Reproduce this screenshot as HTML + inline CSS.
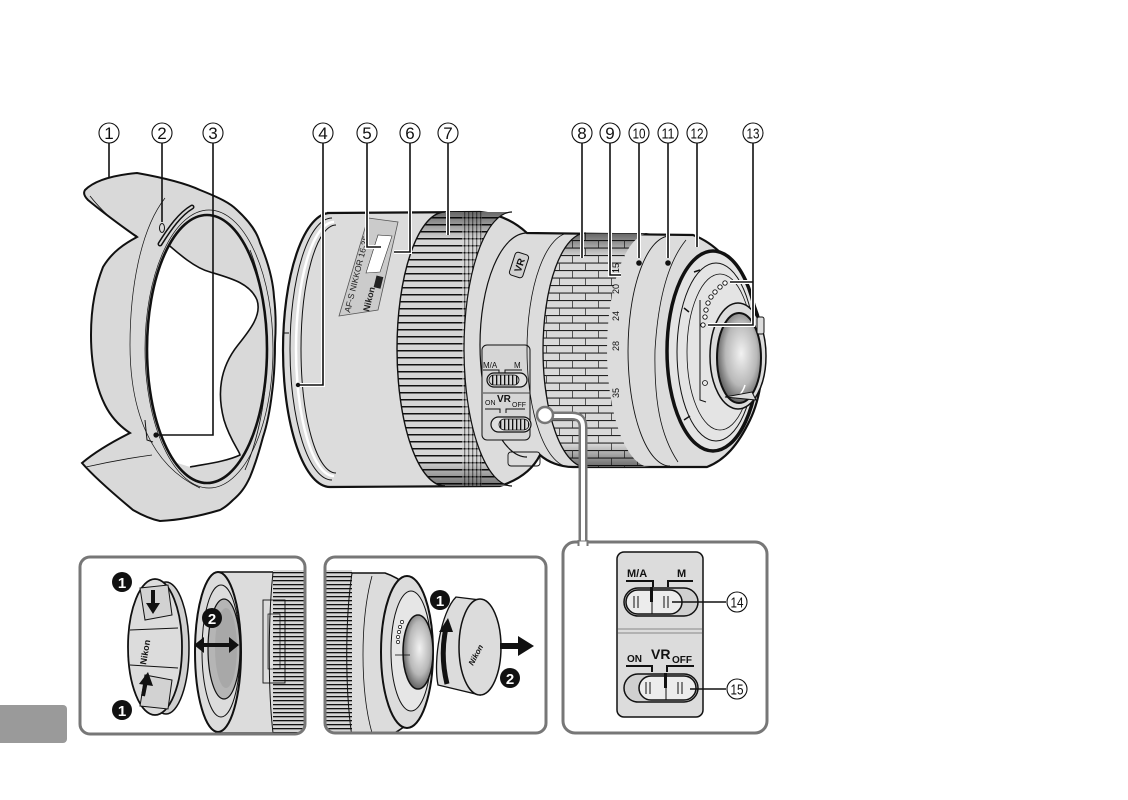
<!DOCTYPE html>
<html><head><meta charset="utf-8"><style>
html,body{margin:0;padding:0;background:#fff;}
svg{display:block;font-family:"Liberation Sans",sans-serif;}
</style></head><body>
<svg width="1128" height="800" viewBox="0 0 1128 800" xmlns="http://www.w3.org/2000/svg">
<defs>
  <radialGradient id="glass" cx="0.55" cy="0.45" r="0.65">
    <stop offset="0" stop-color="#f2f2f2"/>
    <stop offset="0.55" stop-color="#b8b8b8"/>
    <stop offset="1" stop-color="#3a3a3a"/>
  </radialGradient>
  <linearGradient id="edgeDark" x1="0" y1="0" x2="0" y2="1">
    <stop offset="0" stop-color="#000" stop-opacity="0.65"/>
    <stop offset="0.12" stop-color="#000" stop-opacity="0"/>
    <stop offset="0.88" stop-color="#000" stop-opacity="0"/>
    <stop offset="1" stop-color="#000" stop-opacity="0.65"/>
  </linearGradient>
  <pattern id="ribs" width="20" height="7" patternUnits="userSpaceOnUse">
    <rect width="20" height="7" fill="#d6d6d6"/>
    <rect y="0" width="20" height="1.5" fill="#111"/>
  </pattern>
  <pattern id="brick" width="26" height="15" patternUnits="userSpaceOnUse">
    <rect width="26" height="15" fill="#d9d9d9"/>
    <rect y="0" width="26" height="1.1" fill="#222"/>
    <rect y="7.5" width="26" height="1.1" fill="#222"/>
    <rect x="0" y="0" width="0.8" height="7.5" fill="#333"/>
    <rect x="13" y="7.5" width="0.8" height="7.5" fill="#333"/>
  </pattern>
  <pattern id="ribsV" width="4" height="20" patternUnits="userSpaceOnUse">
    <rect width="4" height="20" fill="#d6d6d6"/>
    <rect x="0" width="1.3" height="20" fill="#111"/>
  </pattern>
  <pattern id="ribsH" width="20" height="4" patternUnits="userSpaceOnUse">
    <rect width="20" height="4" fill="#d6d6d6"/>
    <rect y="0" width="20" height="1.3" fill="#111"/>
  </pattern>
  <clipPath id="hoodInner"><ellipse cx="207" cy="349" rx="60" ry="134"/></clipPath>
  <clipPath id="focusClip"><path d="M445,212 A48,137 0 0 0 445,486 L512,486 A48,137 0 0 1 512,212 Z"/></clipPath>
  <clipPath id="zoomClip"><path d="M586,233 A43,117 0 0 0 586,467 L650,467 A43,117 0 0 1 650,233 Z"/></clipPath>
  <clipPath id="p1"><rect x="80" y="557" width="225" height="177" rx="10"/></clipPath>
  <clipPath id="p2"><rect x="325" y="557" width="221" height="176" rx="10"/></clipPath>
</defs>

<rect width="1128" height="800" fill="#fff"/>

<!-- ================= HOOD ================= -->
<path d="M85,190 C95,180 115,175 137,173 C165,178 185,183 200,190 C220,198 230,203 237,210 C250,222 257,232 260,243 C268,262 273,280 274,297 C276,313 276,328 275,343 C275,360 274,378 272,393 C270,410 267,425 263,437 C259,452 255,465 250,477 C245,488 240,494 233,500 C228,505 224,508 220,510 C200,516 180,520 160,521 C150,519 140,514 133,510 C115,495 95,478 82,463 C95,452 112,442 130,433 C118,425 110,415 105,405 C95,385 91,360 91,335 C91,305 96,285 103,267 C112,252 124,244 137,237 C120,225 100,210 88,200 C84,196 83,193 85,190 Z" fill="#d9d9d9" stroke="#111" stroke-width="2"/>
<path d="M90,196 C105,215 122,228 137,236" fill="none" stroke="#111" stroke-width="0.8"/>
<path d="M86,467 C108,462 130,458 152,455" fill="none" stroke="#111" stroke-width="0.8"/>
<path d="M165,198 C140,230 130,290 130,345 C130,410 150,465 200,488" fill="none" stroke="#111" stroke-width="0.7"/>
<ellipse cx="207" cy="349" rx="60" ry="134" fill="#d9d9d9"/>
<g clip-path="url(#hoodInner)">
  <path d="M163,240 C180,255 195,268 210,272 C230,278 250,283 257,300 C262,315 250,330 238,345 C222,365 216,390 224,420 C230,440 240,452 240,455 C225,462 205,464 190,467 L168,460 L130,470 L130,225 Z" fill="#fff"/>
  <path d="M163,240 C180,255 195,268 210,272 C230,278 250,283 257,300 C262,315 250,330 238,345 C222,365 216,390 224,420 C230,440 240,452 240,455 C225,462 205,464 190,467" fill="none" stroke="#111" stroke-width="1.6"/>
</g>
<ellipse cx="207" cy="349" rx="60" ry="134" fill="none" stroke="#111" stroke-width="2.6"/>
<ellipse cx="209" cy="349" rx="64" ry="139" fill="none" stroke="#111" stroke-width="0.7"/>
<path d="M250,250 C262,280 268,320 267,360 C266,400 258,440 245,470" fill="none" stroke="#111" stroke-width="0.8"/>
<path d="M160,244 C170,228 180,214 192,207" fill="none" stroke="#111" stroke-width="5" stroke-linecap="round"/>
<path d="M160,244 C170,228 180,214 192,207" fill="none" stroke="#d9d9d9" stroke-width="2" stroke-linecap="round"/>
<ellipse cx="162" cy="228" rx="2.5" ry="4.5" fill="#d9d9d9" stroke="#111" stroke-width="1"/>
<path d="M145,420 L147,440 L153,442" fill="none" stroke="#111" stroke-width="1"/>

<!-- ================= LENS BODY ================= -->
<path d="M327,213 L480,212 C500,214 515,222 527,233 L693,235 C720,245 745,275 758,315 C768,350 762,395 750,420 C738,445 725,460 707,467 L573,467 C560,467 548,462 540,455 C535,465 525,478 500,486 L330,487 A47,137 0 0 1 330,213 Z" fill="#dcdcdc" stroke="#111" stroke-width="2.2"/>
<path d="M332,218 A42,131 0 0 0 332,480" fill="none" stroke="#111" stroke-width="1"/>
<path d="M334,222 A38,127 0 0 0 334,476" fill="none" stroke="#fff" stroke-width="2.5"/>
<path d="M336,225 A35,124 0 0 0 336,473" fill="none" stroke="#111" stroke-width="1"/>
<path d="M283,333 L289,333" stroke="#111" stroke-width="1"/>
<polygon points="339,316 378,310 398,222 368,218" fill="#cbcbcb" stroke="#555" stroke-width="0.8"/>
<polygon points="366,273 380,272 392,236 378,235" fill="#fff" stroke="#333" stroke-width="0.6"/>
<rect x="372" y="279" width="12" height="7" fill="#222" transform="rotate(-76 378 282)"/>
<text transform="translate(350,313) rotate(-76)" font-size="8.5" fill="#222">AF-S NIKKOR 16-35</text>
<text transform="translate(369,312) rotate(-76)" font-size="9" font-weight="bold" fill="#222">Nikon</text>
<g clip-path="url(#focusClip)">
  <rect x="390" y="205" width="130" height="290" fill="url(#ribs)"/>
  <rect x="462" y="205" width="20" height="290" fill="url(#ribsV)" opacity="0.5"/>
  <rect x="390" y="205" width="130" height="290" fill="url(#edgeDark)"/>
</g>
<path d="M445,212 A48,137 0 0 0 445,486" fill="none" stroke="#111" stroke-width="1.4"/>
<path d="M512,212 A48,137 0 0 0 512,486" fill="none" stroke="#111" stroke-width="1.2"/>
<path d="M527,233 A47,112 0 0 0 527,457" fill="none" stroke="#111" stroke-width="1.2"/>
<rect x="508" y="452" width="32" height="14" rx="3" fill="none" stroke="#111" stroke-width="0.9"/>
<g transform="translate(519,265) rotate(-72)">
  <rect x="-12" y="-7" width="24" height="14" rx="3" fill="#d0d0d0" stroke="#111" stroke-width="1"/>
  <text x="0" y="4" font-size="10" font-weight="bold" text-anchor="middle" fill="#111">VR</text>
</g>
<rect x="482" y="345" width="48" height="95" rx="5" fill="#d6d6d6" stroke="#111" stroke-width="1"/>
<text x="483" y="368" font-size="8" fill="#111">M/A</text>
<text x="514" y="368" font-size="8" fill="#111">M</text>
<path d="M483,370 H499 V374 M505,374 V370 H522" fill="none" stroke="#111" stroke-width="1"/>
<rect x="487" y="373" width="40" height="14" rx="7" fill="#e0e0e0" stroke="#111" stroke-width="1.2"/>
<rect x="489" y="375" width="30" height="10" rx="5" fill="url(#ribsV)" stroke="#111" stroke-width="0.8"/>
<line x1="483" y1="393" x2="530" y2="393" stroke="#111" stroke-width="0.8"/>
<text x="485" y="405" font-size="7" fill="#111">ON</text>
<text x="497" y="402" font-size="10" font-weight="bold" fill="#111">VR</text>
<text x="512" y="407" font-size="7" fill="#111">OFF</text>
<path d="M485,409 H500 V413 M506,413 V409 H525" fill="none" stroke="#111" stroke-width="1"/>
<rect x="491" y="417" width="40" height="15" rx="7.5" fill="#e0e0e0" stroke="#111" stroke-width="1.2"/>
<rect x="499" y="419" width="30" height="11" rx="5.5" fill="url(#ribsV)" stroke="#111" stroke-width="0.8"/>
<g clip-path="url(#zoomClip)">
  <rect x="540" y="228" width="120" height="245" fill="url(#brick)"/>
  <rect x="540" y="228" width="120" height="245" fill="url(#edgeDark)"/>
</g>
<path d="M586,233 A43,117 0 0 0 586,467" fill="none" stroke="#111" stroke-width="1.3"/>
<path d="M570,233 A43,117 0 0 0 570,467" fill="none" stroke="#111" stroke-width="0.8"/>
<g font-size="9" fill="#111" text-anchor="middle">
  <text transform="translate(619,268) rotate(-90)">15</text>
  <text transform="translate(619,289) rotate(-90)">20</text>
  <text transform="translate(619,316) rotate(-90)">24</text>
  <text transform="translate(619,346) rotate(-90)">28</text>
  <text transform="translate(619,393) rotate(-90)">35</text>
</g>
<path d="M670,236 A42,115 0 0 0 670,466" fill="none" stroke="#111" stroke-width="0.9"/>
<path d="M686,240 C668,262 658,300 655,350 C654,400 660,435 678,462" fill="none" stroke="#111" stroke-width="0.8"/>
<ellipse cx="713" cy="351" rx="46" ry="100" fill="#e4e4e4" stroke="#111" stroke-width="3.5"/>
<ellipse cx="716" cy="352" rx="39" ry="89" fill="none" stroke="#111" stroke-width="1"/>
<ellipse cx="720" cy="352" rx="33" ry="78" fill="none" stroke="#111" stroke-width="0.8"/>
<path d="M700,300 L700,400 L706,402" fill="none" stroke="#111" stroke-width="1"/>
<circle cx="705" cy="383" r="2.5" fill="none" stroke="#111" stroke-width="0.8"/>
<path d="M684,308 L689,312 M684,420 L690,416 M694,272 L700,270" stroke="#111" stroke-width="1.5"/>
<g fill="#fff" stroke="#111" stroke-width="0.9">
  <circle cx="725" cy="283" r="2.2"/><circle cx="720" cy="287" r="2.2"/><circle cx="715" cy="292" r="2.2"/>
  <circle cx="711" cy="297" r="2.2"/><circle cx="708" cy="303" r="2.2"/><circle cx="706" cy="310" r="2.2"/>
  <circle cx="705" cy="317" r="2.2"/><circle cx="703" cy="325" r="2.2"/>
</g>
<ellipse cx="738" cy="356" rx="28" ry="53" fill="#dcdcdc" stroke="#111" stroke-width="1.5"/>
<ellipse cx="739" cy="358" rx="22" ry="45" fill="url(#glass)" stroke="#111" stroke-width="2"/>
<path d="M745,385 Q742,395 735,398" fill="none" stroke="#fff" stroke-width="1.5"/>
<path d="M725,397 L752,392 L756,400 Z" fill="#dcdcdc" stroke="#111" stroke-width="1"/>
<rect x="757" y="317" width="7" height="17" rx="2" fill="#dcdcdc" stroke="#111" stroke-width="1"/>

<!-- ================= CALLOUT NUMBERS ================= -->
<g fill="none" stroke="#111" stroke-width="1.1">
  <circle cx="109" cy="133" r="10"/><circle cx="162" cy="133" r="10"/><circle cx="213" cy="133" r="10"/>
  <circle cx="323" cy="133" r="10"/><circle cx="367" cy="133" r="10"/><circle cx="410" cy="133" r="10"/>
  <circle cx="448" cy="133" r="10"/><circle cx="582" cy="133" r="10"/><circle cx="610" cy="133" r="10"/>
  <circle cx="639" cy="133" r="10"/><circle cx="668" cy="133" r="10"/><circle cx="697" cy="133" r="10"/>
  <circle cx="753" cy="133" r="10"/>
</g>
<g font-size="17" fill="#111" text-anchor="middle">
  <text x="109" y="139">1</text><text x="162" y="139">2</text><text x="213" y="139">3</text>
  <text x="323" y="139">4</text><text x="367" y="139">5</text><text x="410" y="139">6</text>
  <text x="448" y="139">7</text><text x="582" y="139">8</text><text x="610" y="139">9</text>
</g>
<g font-size="15" fill="#111">
  <text x="632.5" y="138.5" textLength="13" lengthAdjust="spacingAndGlyphs">10</text>
  <text x="661.5" y="138.5" textLength="13" lengthAdjust="spacingAndGlyphs">11</text>
  <text x="690.5" y="138.5" textLength="13" lengthAdjust="spacingAndGlyphs">12</text>
  <text x="746.5" y="138.5" textLength="13" lengthAdjust="spacingAndGlyphs">13</text>
</g>
<g fill="none" stroke="#fff" stroke-width="4">
  <path d="M323,190 V385 H300"/><path d="M367,210 V247 H381"/><path d="M410,210 V252 H394"/>
  <path d="M448,210 V235"/><path d="M582,232 V258"/><path d="M610,232 V275 H621"/>
  <path d="M639,232 V258"/><path d="M668,232 V258"/><path d="M697,232 V247"/>
  <path d="M753,260 V325 H708 M753,282 H730"/>
</g>
<g fill="none" stroke="#111" stroke-width="1.6">
  <path d="M109,143 V178"/>
  <path d="M162,143 V222"/>
  <path d="M213,143 V435 H158"/>
  <path d="M323,143 V385 H300"/>
  <path d="M367,143 V247 H381"/>
  <path d="M410,143 V252 H394"/>
  <path d="M448,143 V235"/>
  <path d="M582,143 V258"/>
  <path d="M610,143 V275 H621"/>
  <path d="M639,143 V258"/>
  <path d="M668,143 V258"/>
  <path d="M697,143 V247"/>
  <path d="M753,143 V325 H708 M753,282 H730"/>
</g>
<g fill="#111">
  <circle cx="156" cy="435" r="2.6"/><circle cx="298" cy="385" r="2.2"/>
  <circle cx="639" cy="263" r="2.8"/><circle cx="668" cy="263" r="2.8"/>
</g>

<!-- ================= CONNECTOR ================= -->
<path d="M545,416 L572,416 Q583,416 583,427 L583,544" fill="none" stroke="#777" stroke-width="9"/>
<path d="M545,416 L572,416 Q583,416 583,427 L583,546" fill="none" stroke="#fff" stroke-width="4"/>
<circle cx="545" cy="415" r="8" fill="#fff" stroke="#777" stroke-width="2.5"/>

<!-- ================= PANEL 1 ================= -->
<g clip-path="url(#p1)">
  <path d="M218,572 L310,572 L310,733 L218,733 Z" fill="#dcdcdc" stroke="#111" stroke-width="1.5"/>
  <rect x="273" y="570" width="40" height="166" fill="url(#ribsH)"/>
  <path d="M273,572 C268,620 268,690 273,733" fill="none" stroke="#111" stroke-width="1"/>
  <rect x="263" y="600" width="22" height="83" fill="none" stroke="#111" stroke-width="0.9"/>
  <rect x="268" y="614" width="12" height="55" fill="none" stroke="#111" stroke-width="0.7"/>
  <ellipse cx="218" cy="652" rx="23" ry="80" fill="#dcdcdc" stroke="#111" stroke-width="2"/>
  <ellipse cx="221" cy="651" rx="19" ry="66" fill="none" stroke="#111" stroke-width="1"/>
  <ellipse cx="224" cy="649" rx="16" ry="50" fill="#b5b5b5" stroke="#111" stroke-width="1.2"/>
  <ellipse cx="226" cy="648" rx="11" ry="40" fill="#a0a0a0" opacity="0.6"/>
  <ellipse cx="166" cy="648" rx="23" ry="66" fill="#d0d0d0" stroke="#111" stroke-width="1.5"/>
  <ellipse cx="155" cy="647" rx="27" ry="68" fill="#dcdcdc" stroke="#111" stroke-width="1.8"/>
  <path d="M140,588 L168,585 L172,615 L145,620 Z" fill="#d2d2d2" stroke="#111" stroke-width="1"/>
  <path d="M140,706 L168,709 L172,680 L145,675 Z" fill="#d2d2d2" stroke="#111" stroke-width="1"/>
  <path d="M130,630 L178,628 M130,665 L178,668" stroke="#111" stroke-width="0.9"/>
  <text transform="translate(146,665) rotate(-80)" font-size="9" font-weight="bold" fill="#111">Nikon</text>
  <path d="M153,590 L153,605" stroke="#111" stroke-width="4"/>
  <polygon points="146,603 160,603 153,614" fill="#111"/>
  <path d="M143,696 L146,681" stroke="#111" stroke-width="4"/>
  <polygon points="139,684 153,686 148,672" fill="#111"/>
  <path d="M200,645 L232,645" stroke="#111" stroke-width="4"/>
  <polygon points="204,637 194,645 204,653" fill="#111"/>
  <polygon points="229,637 239,645 229,653" fill="#111"/>
</g>
<rect x="80" y="557" width="225" height="177" rx="10" fill="none" stroke="#777" stroke-width="3"/>
<g>
  <circle cx="122" cy="582" r="10" fill="#111"/><text x="122" y="588" font-size="15" font-weight="bold" fill="#fff" text-anchor="middle">1</text>
  <circle cx="122" cy="710" r="10" fill="#111"/><text x="122" y="716" font-size="15" font-weight="bold" fill="#fff" text-anchor="middle">1</text>
  <circle cx="212" cy="618" r="10" fill="#111"/><text x="212" y="624" font-size="15" font-weight="bold" fill="#fff" text-anchor="middle">2</text>
</g>

<!-- ================= PANEL 2 ================= -->
<g clip-path="url(#p2)">
  <path d="M300,573 L385,573 C420,585 433,620 433,652 C433,690 420,725 385,737 L300,737 Z" fill="#dcdcdc" stroke="#111" stroke-width="1.5"/>
  <rect x="320" y="570" width="32" height="170" fill="url(#ribsH)"/>
  <path d="M352,573 C345,620 345,690 352,737" fill="none" stroke="#111" stroke-width="1"/>
  <path d="M372,576 C360,620 360,690 372,733" fill="none" stroke="#111" stroke-width="0.8"/>
  <ellipse cx="407" cy="652" rx="26" ry="76" fill="#dcdcdc" stroke="#111" stroke-width="2"/>
  <ellipse cx="411" cy="651" rx="20" ry="60" fill="#e6e6e6" stroke="#111" stroke-width="1"/>
  <g fill="#fff" stroke="#111" stroke-width="0.7">
    <circle cx="402" cy="622" r="1.6"/><circle cx="400" cy="627" r="1.6"/><circle cx="399" cy="632" r="1.6"/><circle cx="398" cy="637" r="1.6"/><circle cx="398" cy="642" r="1.6"/>
  </g>
  <ellipse cx="418" cy="652" rx="15" ry="37" fill="url(#glass)" stroke="#111" stroke-width="1.5"/>
  <path d="M395,655 L410,655" stroke="#111" stroke-width="0.8"/>
  <path d="M456,597 C441,612 433,660 438,685 L480,695 L480,600 Z" fill="#dcdcdc" stroke="#111" stroke-width="1.3"/>
  <ellipse cx="480" cy="647" rx="21" ry="48" fill="#dcdcdc" stroke="#111" stroke-width="1.5"/>
  <text transform="translate(473,666) rotate(-62)" font-size="8" font-weight="bold" font-style="italic" fill="#111">Nikon</text>
  <path d="M447,684 Q440,655 446,628" fill="none" stroke="#111" stroke-width="5"/>
  <polygon points="439,632 453,632 448,618" fill="#111"/>
  <path d="M500,646 L521,646" stroke="#111" stroke-width="6"/>
  <polygon points="518,636 534,646 518,656" fill="#111"/>
</g>
<rect x="325" y="557" width="221" height="176" rx="10" fill="none" stroke="#777" stroke-width="3"/>
<circle cx="440" cy="600" r="10" fill="#111"/><text x="440" y="606" font-size="15" font-weight="bold" fill="#fff" text-anchor="middle">1</text>
<circle cx="510" cy="678" r="10" fill="#111"/><text x="510" y="684" font-size="15" font-weight="bold" fill="#fff" text-anchor="middle">2</text>

<!-- ================= PANEL 3 ================= -->
<rect x="563" y="542" width="204" height="191" rx="12" fill="none" stroke="#777" stroke-width="3"/>
<path d="M578,543 L588,543" stroke="#fff" stroke-width="3"/>
<path d="M578.5,540 V546 M587.5,540 V546" stroke="#777" stroke-width="2"/>
<rect x="617" y="552" width="86" height="165" rx="7" fill="#dcdcdc" stroke="#111" stroke-width="1.5"/>
<path d="M618,629 H702 M618,633 H702" stroke="#888" stroke-width="1"/>
<text x="627" y="577" font-size="11" font-weight="bold" fill="#111">M/A</text>
<text x="677" y="577" font-size="11" font-weight="bold" fill="#111">M</text>
<path d="M626,581 H653 V587 M668,587 V581 H693" fill="none" stroke="#111" stroke-width="2"/>
<rect x="624" y="588" width="74" height="28" rx="14" fill="#d0d0d0" stroke="#111" stroke-width="1.5"/>
<rect x="626" y="590" width="56" height="24" rx="12" fill="#ececec" stroke="#111" stroke-width="1.5"/>
<line x1="652" y1="590" x2="652" y2="614" stroke="#111" stroke-width="1"/>
<rect x="650" y="587" width="3" height="15" fill="#111"/>
<path d="M634,596 V608 M638,596 V608 M664,596 V608 M668,596 V608" stroke="#111" stroke-width="1"/>
<line x1="672" y1="602" x2="726" y2="602" stroke="#111" stroke-width="1.6"/>
<circle cx="737" cy="602" r="10" fill="#fff" stroke="#111" stroke-width="1.1"/>
<text x="730.5" y="607.5" font-size="15" textLength="13" lengthAdjust="spacingAndGlyphs" fill="#111">14</text>
<text x="627" y="662" font-size="10" font-weight="bold" fill="#111">ON</text>
<text x="651" y="659" font-size="14" font-weight="bold" fill="#111">VR</text>
<text x="672" y="663" font-size="10" font-weight="bold" fill="#111">OFF</text>
<path d="M626,666 H652 V672 M667,672 V666 H694" fill="none" stroke="#111" stroke-width="2"/>
<rect x="624" y="674" width="74" height="28" rx="14" fill="#d0d0d0" stroke="#111" stroke-width="1.5"/>
<rect x="639" y="676" width="57" height="24" rx="12" fill="#ececec" stroke="#111" stroke-width="1.5"/>
<line x1="666" y1="676" x2="666" y2="700" stroke="#111" stroke-width="1"/>
<rect x="664" y="673" width="3" height="15" fill="#111"/>
<path d="M646,682 V694 M650,682 V694 M678,682 V694 M682,682 V694" stroke="#111" stroke-width="1"/>
<line x1="690" y1="689" x2="726" y2="689" stroke="#111" stroke-width="1.6"/>
<circle cx="737" cy="689" r="10" fill="#fff" stroke="#111" stroke-width="1.1"/>
<text x="730.5" y="694.5" font-size="15" textLength="13" lengthAdjust="spacingAndGlyphs" fill="#111">15</text>

<rect x="-6" y="705" width="73" height="38" rx="4" fill="#9a9a9a"/>
</svg>
</body></html>
